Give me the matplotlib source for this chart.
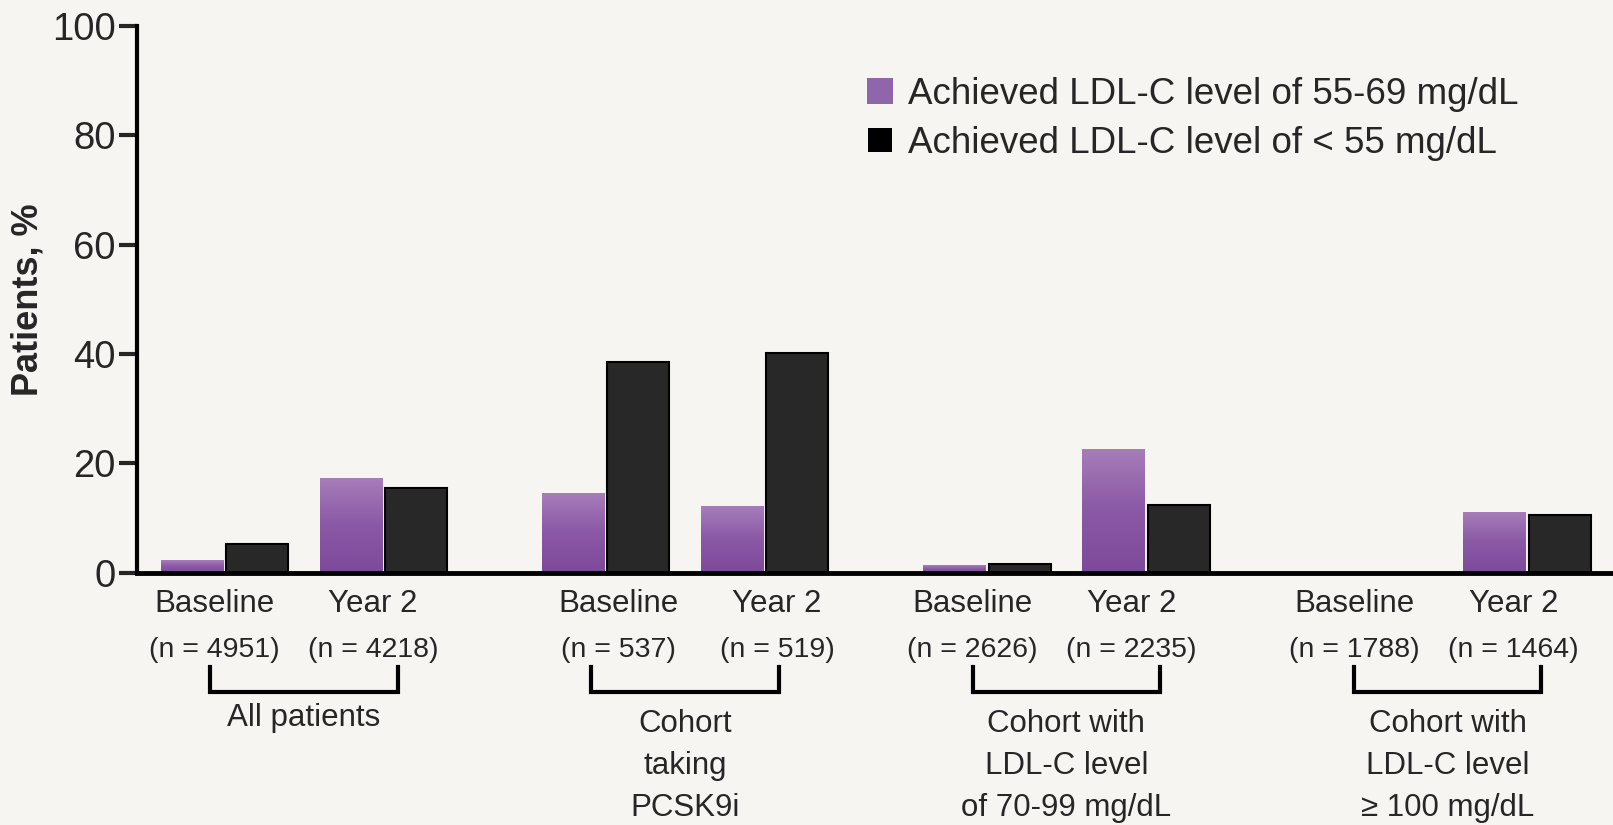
import numpy as np
import matplotlib
matplotlib.use("Agg")
import matplotlib.pyplot as plt
from matplotlib.lines import Line2D
from matplotlib.colors import LinearSegmentedColormap

plt.rcParams['font.family'] = ['Liberation Sans', 'DejaVu Sans']

groups = ["All patients", "Cohort\ntaking\nPCSK9i",
          "Cohort with\nLDL-C level\nof 70-99 mg/dL",
          "Cohort with\nLDL-C level\n\u2265 100 mg/dL"]
times = ["Baseline", "Year 2"]
n_labels = ["(n = 4951)", "(n = 4218)", "(n = 537)", "(n = 519)",
            "(n = 2626)", "(n = 2235)", "(n = 1788)", "(n = 1464)"]

# % of patients, order: group x (baseline, year 2)
ldl_55_69 = [2.3, 17.3, 14.5, 12.2, 1.4, 22.6, 0.0, 11.1]
ldl_lt55 = [5.3, 15.4, 38.5, 40.2, 1.6, 12.3, 0.0, 10.5]

BG = '#f7f5f2'
TXT = '#262626'
purple_cm = LinearSegmentedColormap.from_list('purp', ['#7d4a9b', '#8a58a5', '#a67db9'])

fig = plt.figure(figsize=(16.13, 8.25), dpi=100, facecolor=BG)
ax = fig.add_axes([0.0848, 0.3058, 0.9152, 0.663])
ax.set_facecolor(BG)

group_step = 2.398
first = 0.551
w = 0.39
off = 0.206
# small per-group nudge of the text under the bars
label_shift = [-0.065, 0.078, -0.09, -0.085]

centers = []
for g in range(len(groups)):
    for t in range(len(times)):
        centers.append(first + g * group_step + t)
centers = np.array(centers)

grad = np.linspace(0, 1, 256).reshape(-1, 1)
for xc, h in zip(centers, ldl_55_69):
    if h <= 0:
        continue
    ax.imshow(grad, cmap=purple_cm, origin='lower', aspect='auto',
              extent=[xc - off - w / 2, xc - off + w / 2, 0, h], zorder=2)

ax.bar(centers + off, ldl_lt55, width=w, color='#282828',
       edgecolor='black', linewidth=1.5, zorder=2)

ax.set_xlim(0, 9.285)
ax.set_ylim(0, 100)
ax.set_xticks([])
ax.set_yticks(range(0, 101, 20))
ax.tick_params(axis='y', length=13, width=3, pad=2, labelsize=27.5,
               colors=TXT)
for lab in ax.get_yticklabels():
    lab.set_family(['Liberation Sans Narrow', 'Liberation Sans'])
for s in ['top', 'right']:
    ax.spines[s].set_visible(False)
ax.spines['left'].set_linewidth(3)
ax.spines['bottom'].set_linewidth(3.5)
ax.spines['bottom'].set_zorder(3)

ax.set_ylabel('Patients, %', fontsize=26, fontweight='bold', color=TXT,
              labelpad=5)

# category labels below the axis
for i, xc in enumerate(centers):
    xs = xc + label_shift[i // 2]
    ax.text(xs, -5.8, times[i % 2], ha='center', va='center',
            fontsize=22.5, color=TXT, clip_on=False)
    ax.text(xs, -14.2, n_labels[i], ha='center', va='center',
            fontsize=20.5, color=TXT, clip_on=False)

for g, name in enumerate(groups):
    gc = first + g * group_step + 0.5
    x0, x1 = gc - 0.59, gc + 0.59
    ax.plot([x0, x0, x1, x1], [-17.2, -21.8, -21.8, -17.2], color='black',
            lw=3, clip_on=False, solid_joinstyle='miter')
    ytop = -24.9 if '\n' in name else -23.9
    ax.text(gc, ytop, name, ha='center', va='top', fontsize=22.5,
            color=TXT, linespacing=1.53, clip_on=False)

handles = [Line2D([], [], ls='none', marker='s', markersize=19,
                  markerfacecolor='#9066aa', markeredgewidth=0),
           Line2D([], [], ls='none', marker='s', markersize=17,
                  markerfacecolor='black', markeredgewidth=0)]
ax.legend(handles, ['Achieved LDL-C level of 55-69 mg/dL',
                    'Achieved LDL-C level of < 55 mg/dL'],
          loc='upper left', bbox_to_anchor=(0.525, 0.929),
          bbox_transform=fig.transFigure, frameon=False, fontsize=26.5,
          handlelength=0.8, handletextpad=0.35, labelspacing=0.39,
          borderpad=0, labelcolor=TXT)

fig.savefig('out.png', dpi=100, facecolor=BG)
